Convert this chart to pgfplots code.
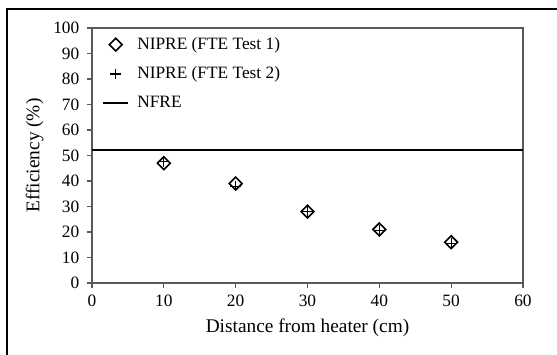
\documentclass[border=0pt]{standalone}
\usepackage{pgfplots}
\pgfplotsset{compat=1.18}
\usepackage{fontspec}
\setmainfont{Liberation Serif}
\begin{document}
\begin{tikzpicture}
\clip (0,0) rectangle (417.75pt,265.5pt);
\useasboundingbox (0,0) rectangle (417.75pt,265.5pt);
\fill[white] (0,0) rectangle (417.75pt,265.5pt);
\draw[black, line width=0.9pt] (5.25pt,-20pt) rectangle (440pt,258.75pt);
\begin{axis}[
  at={(69pt,53.25pt)}, anchor=south west,
  scale only axis, width=323.25pt, height=191.25pt,
  xmin=0, xmax=60, ymin=0, ymax=100,
  xtick={0,10,...,60}, ytick={0,10,...,100},
  tick align=outside, tick pos=left,
  major tick length=3.5pt,
  axis line style={draw=black!65, line width=0.9pt},
  every tick/.style={black!65, line width=0.8pt},
  /pgf/number format/assume math mode=true,
  tick label style={font=\fontsize{13}{15}\selectfont},
  xticklabel style={yshift=-2pt},
  yticklabel style={xshift=-2.5pt},
  label style={font=\fontsize{14.5}{16}\selectfont},
  xlabel={Distance from heater (cm)},
  ylabel={Efficiency (\%)},
  xlabel style={yshift=-2pt},
  ylabel style={yshift=0.5pt},
  legend style={draw=none, fill=none, at={(0.0,1.0)}, anchor=north west,
    font=\fontsize{13}{15}\selectfont, row sep=7.5pt, xshift=4.5pt, yshift=-3pt,
    nodes={inner xsep=6pt}},
  legend image code/.code={\draw[mark repeat=2,mark phase=2,#1] plot coordinates {(0cm,0cm) (0.33cm,0cm) (0.66cm,0cm)};},
  legend cell align=left,
]
\addplot[only marks, mark=square, mark size=3.4pt, mark options={draw=black, fill=none, line width=1.2pt, rotate=45}]
  coordinates {(10,47) (20,39) (30,28) (40,21) (50,16)};
\addlegendentry{NIPRE (FTE Test 1)}
\addplot[only marks, mark=+, mark size=4pt, mark options={draw=black, line width=0.9pt}]
  coordinates {(10,47.5) (20,38) (30,28) (40,20.5) (50,15.5)};
\addlegendentry{NIPRE (FTE Test 2)}
\addplot[black, line width=1.5pt, no marks] coordinates {(0,52) (60,52)};
\addlegendentry{NFRE}
\end{axis}
\end{tikzpicture}
\end{document}
